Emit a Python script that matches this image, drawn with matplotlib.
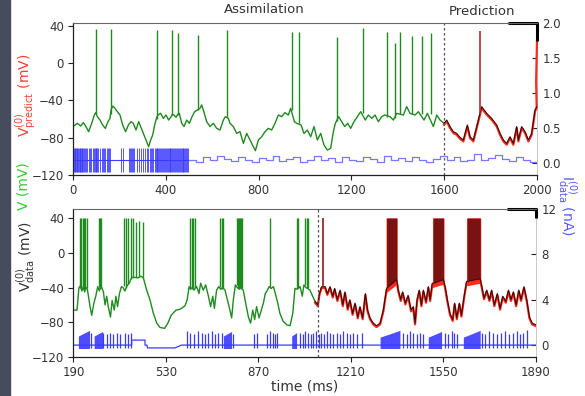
#! /usr/bin/env python3

'''
Two-panel voltage / current traces: assimilation (green) then prediction (red/black).
'''

import numpy as np
import matplotlib
matplotlib.use('Agg')
import matplotlib.pyplot as plt
from matplotlib.patches import Rectangle

GREEN = '#1f8a1f'
RED = '#ff2a1a'
BLUE = '#3a3aff'
LIGHT_BLUE = '#7777ff'

# ---------------- top panel data ----------------
# subthreshold voltage vertices (ms, mV)
top_v = [
    (0, -68), (18.6, -64.5), (33, -67.4), (44.5, -63.8), (56, -68), (67.5, -73.5),
    (80.4, -64.5), (92, -55.6), (98, -53), (104.8, -57.4), (116.3, -61), (127.8, -66.3),
    (139.3, -69.9), (150.8, -62.7), (159.4, -59.2), (164, -50), (171, -46), (181, -48.4),
    (191, -52), (202.5, -55.6), (214, -66.3), (227, -73.5), (238.5, -66.3), (250, -62.7),
    (260, -64.5), (271.5, -71.7), (283, -62.7), (294.5, -69.9), (306, -77.1), (317.5, -84.2),
    (326, -89.6), (334.7, -82.4), (343.4, -77.1), (352, -66.3), (361, -58), (366.3, -55.6),
    (377.8, -53.8), (389.3, -59.2), (400.8, -55.6), (412.3, -61), (422.4, -57.4), (428, -55),
    (435.3, -55.6), (443.9, -58), (451, -55), (458.3, -53.8), (468.4, -64.5), (478.4, -68),
    (490, -61), (501.4, -64.5), (513, -57.4), (524.4, -52), (536, -50.2), (547.4, -48.4),
    (554.6, -44.8), (561.8, -50.2), (576.1, -62.7), (590.5, -68), (604.9, -64.5),
    (619.2, -69.9), (633.6, -71.7), (648, -61), (656.6, -57.4), (669.5, -59.2),
    (676.7, -64.5), (691.1, -68), (705.5, -75.3), (719.8, -73.5), (734.2, -86),
    (748.6, -75.3), (762.9, -82.4), (777.3, -89.6), (786, -93.9), (798.9, -82.4),
    (813.2, -78.9), (827.6, -73.5), (842, -69.9), (856.3, -71.7), (870.7, -64.5),
    (885, -55.6), (899.4, -57.4), (913.8, -53), (928.2, -55.6), (938.2, -48.4),
    (954, -62.7), (964, -64.5), (982.8, -66.3), (995.7, -75.3), (1010, -71.7),
    (1024.4, -78.9), (1038.8, -68), (1053.2, -82.4), (1067.5, -75.3), (1081.9, -87.8),
    (1096.3, -93.2), (1110.6, -91.4), (1122.1, -73.5), (1130.7, -64.5), (1145.1, -57.4),
    (1158, -62.7), (1171, -68), (1183.9, -64.5), (1196.8, -69.9), (1211.2, -62.7),
    (1225.6, -57.4), (1240, -52), (1260, -61), (1273, -55.6), (1287.4, -59.2),
    (1301.7, -55.6), (1316, -62.7), (1330.4, -57.4), (1343.4, -55.6), (1366.4, -57.4),
    (1380.8, -61), (1395.1, -53.8), (1423.9, -55.6), (1438.2, -46.6), (1452.6, -53.8),
    (1474.2, -55.6), (1488.5, -52), (1513, -61), (1527.3, -53.8), (1553.2, -68),
    (1567.6, -55.6), (1582, -61), (1599.2, -64.5),
    # prediction
    (1610.7, -61), (1625, -68), (1639.4, -73.5), (1653.8, -75.3), (1668.1, -79.6),
    (1682.5, -82.4), (1699.7, -66.3), (1711.2, -78.9), (1725.6, -82.4), (1740, -68),
    (1761.5, -46.6), (1783.1, -53.8), (1804.6, -59.2), (1826.2, -66.3), (1840.5, -75.3),
    (1854.9, -82.4), (1869.3, -86), (1883.6, -78.9), (1898, -86), (1912.4, -68),
    (1919.6, -82.4), (1933.9, -68), (1948.3, -73.5), (1962.7, -82.4), (1977, -75.3),
    (1991.4, -50.2), (1998.6, -46.6),
]
# spikes: (time, base mV, peak mV)
top_spikes = [
    (98, -55, 37), (164, -55, 37), (361, -60, 36), (428, -56, 36), (451, -56, 32),
    (540, -50, 30), (662, -58, 36), (944, -50, 33), (974, -64, 34), (1137, -62, 28),
    (1250, -53, 38), (1352, -58, 33), (1388, -59, 22), (1409, -55, 34), (1462, -55, 29),
    (1503, -55, 29), (1542, -55, 32), (1754, -55, 35),
]
# red prediction running off at the end (ms, mV)
top_red_tail = [(1991.4, -50.2), (1996, -20), (2000, 25)]

# stimulus current, dense part: pulse times (ms)
top_i_pulses = [
    4, 7, 10, 13, 16, 19, 22, 25, 28, 31, 34, 37, 40, 43, 46, 50, 55, 60, 68, 75,
    78, 88, 92, 95, 98, 100, 104, 108, 118, 124, 128, 134, 140, 146, 150, 155, 160,
    205, 215, 240, 245, 250, 255, 260, 265, 275, 285, 295, 300, 312, 318, 325, 330,
    335, 340, 345, 352, 356, 360, 364, 368, 372, 376, 380, 384, 388, 392, 396, 400,
    404, 408, 412, 416, 420, 424, 428, 432, 436, 440, 444, 448, 452, 456, 460, 464,
    468, 472, 476, 480, 484, 488, 492, 496,
]
top_i_low, top_i_high, top_i_mid = -0.13, 0.21, 0.05
# slow part: levels held for 30 ms each from 500 ms (nA)
top_i_levels = [
    0.05, 0.02, 0.08, 0.04, 0.10, 0.06, 0.03, 0.09, 0.05, 0.02,
    0.07, 0.04, 0.10, 0.03, 0.06, 0.08, 0.02, 0.05, 0.10, 0.04,
    0.07, 0.02, 0.09, 0.05, 0.03, 0.08, 0.06, 0.02, 0.10, 0.04,
    0.07, 0.03, 0.09, 0.05, 0.02, 0.06, 0.10, 0.04, 0.08, 0.03,
    0.05, 0.13, 0.04, 0.07, 0.11, 0.06, 0.03, 0.08, 0.04, 0.02,
]

# ---------------- bottom panel data ----------------
bot_v = [
    (190, -66), (203, -66), (210, -40), (216, -38), (221, -44), (226, -39), (231, -45),
    (236, -40), (241, -42), (245, -50), (251, -62), (257, -72), (265, -58), (272, -50),
    (279, -39), (285, -44), (290, -38), (295, -41), (300, -45), (306, -60), (312, -50),
    (318, -62), (326, -74), (332, -55), (340, -66), (346, -50), (352, -62), (359, -47),
    (366, -39), (372, -40), (379, -44), (387, -38), (395, -35), (403, -29), (410, -28),
    (425, -29), (438, -27), (447, -29), (459, -43), (471, -54), (483, -69), (496, -81),
    (508, -86), (525, -87), (537, -81), (549, -72), (567, -66), (582, -65), (600, -61),
    (608, -54), (615, -39), (620, -42), (627, -40), (633, -43), (639, -40), (643, -39),
    (651, -47), (657.5, -35), (667, -43), (676, -37), (686, -50), (694, -62), (702, -50),
    (708, -64), (716, -43), (724, -39), (731, -42), (738, -40), (747, -43), (755.5, -54),
    (765, -66), (771.5, -75), (777.6, -54), (785, -37), (792, -40), (799, -42), (806, -40),
    (814, -43), (823, -58), (833, -74), (841, -81), (849, -66), (856, -77), (863, -62),
    (872, -75), (880.5, -66), (888, -58), (895, -47), (903, -43), (909, -39), (917, -41),
    (925, -39), (932, -47), (941, -58), (949, -70), (961, -79), (974, -83), (986, -84),
    (996, -70), (1004, -41), (1013, -42), (1023, -39), (1031, -50), (1037, -37),
    (1044, -40), (1050, -41), (1059, -43), (1069, -50), (1078, -56), (1088, -60),
    # prediction
    (1094, -47), (1102, -39), (1115, -39), (1123, -47), (1133, -39), (1143, -50),
    (1150, -41), (1160, -54), (1170, -43), (1180, -60), (1188, -45), (1198, -64),
    (1206, -54), (1216, -70), (1225, -58), (1235, -74), (1243, -62), (1253, -75),
    (1263, -47), (1271, -66), (1280, -75), (1292, -81), (1304, -84), (1317, -81),
    (1329, -66), (1341, -41), (1378, -31), (1384, -43), (1393, -54), (1400, -45),
    (1410, -58), (1420, -49), (1431, -66), (1439, -62), (1445.5, -81), (1453, -54),
    (1461, -43), (1469, -60), (1476, -43), (1486, -56), (1494.5, -39), (1501, -54),
    (1509, -35), (1513, -35), (1550, -31), (1556, -39), (1564, -54), (1574, -70),
    (1584, -77), (1591, -58), (1599, -75), (1608.5, -58), (1616, -72), (1626, -50),
    (1635, -33), (1685, -30), (1691, -39), (1699, -52), (1709, -43), (1719, -54),
    (1727, -43), (1737, -60), (1748, -47), (1758, -64), (1768, -50), (1779, -56),
    (1789, -43), (1798, -54), (1807, -45), (1817, -60), (1827, -43), (1835, -54),
    (1846, -39), (1856, -54), (1866, -74), (1876, -81), (1890, -83),
]
bot_spikes = [
    (214, -40, 40), (219, -42, 40), (224, -40, 40), (229, -43, 40), (233, -41, 40),
    (238.5, -40, 40), (283, -39, 40), (287, -42, 40), (292, -40, 40),
    (375.7, -38, 40), (383, -40, 40), (391.5, -36, 40), (400, -30, 40), (407.6, -29, 40),
    (420, -28, 36), (432, -28, 37), (444, -29, 36),
    (618, -40, 40), (624.5, -42, 40), (630.5, -41, 40), (636.7, -40, 40),
    (728.6, -39, 40), (734.8, -42, 40), (740.9, -41, 40),
    (790, -37, 40), (793.6, -40, 40), (797, -41, 40), (801, -40, 40), (804.6, -42, 40),
    (808, -41, 40), (912, -40, 40), (1010.6, -40, 40), (1016.6, -40, 40),
    (1041, -37, 40), (1047, -40, 40), (1053, -40, 40),
    (1108, -39, 40),
]
# dense predicted bursts: (start ms, end ms, floor at start, floor at end)
bot_bursts = [(1341, 1378, -41, -31), (1512, 1550, -35, -31), (1637, 1685, -33, -30)]

# current: baseline vertices (ms, nA)
bot_i_base = [
    (190, 0.0), (404, 0.0), (404, 0.44), (453, 0.44), (453, 0.0), (460, 0.0),
    (462, -0.25), (563, -0.25), (587, 0.0), (1890, 0.0),
]
# single pulses: times (ms) and heights (nA)
bot_i_pulses = [
    253, 300, 312, 324, 336, 349, 361, 379, 392, 401,
    606, 618, 633, 649, 661, 673, 686, 698, 710, 722.5, 735, 778,
    853.6, 866, 902.6, 912, 922, 931, 939,
    1023, 1032, 1042, 1052, 1062, 1072, 1082, 1091, 1101, 1111, 1121, 1133, 1145,
    1157, 1170, 1182, 1194, 1206, 1219, 1231, 1249,
    1402.6, 1414.8, 1427, 1439, 1451.6, 1464, 1476,
    1555.8, 1568, 1580.3, 1589, 1598.7,
    1690.6, 1704, 1717.5, 1731, 1745.7, 1760.4, 1775, 1789.8, 1804.5, 1819.3,
    1831.5, 1843.8, 1856,
]
bot_i_heights = [
    1.1, 1.1, 1.0, 1.1, 1.0, 1.1, 1.0, 1.1, 1.0, 1.1,
    1.2, 1.1, 1.0, 1.2, 1.1, 1.0, 1.1, 1.2, 1.0, 1.1, 1.1, 1.0,
    1.0, 1.1, 1.0, 1.2, 1.1, 1.0, 1.1,
    1.1, 1.0, 1.2, 1.1, 1.0, 1.1, 1.2, 1.0, 1.1, 1.0, 1.2, 1.1, 1.0,
    1.1, 1.0, 1.2, 1.1, 1.0, 1.1, 1.0, 1.1,
    1.1, 1.0, 1.2, 1.1, 1.0, 1.1, 1.0,
    1.1, 1.0, 1.2, 1.1, 1.0,
    1.1, 1.0, 1.2, 1.1, 1.0, 1.1, 1.2, 1.0, 1.1, 1.2,
    1.0, 1.1, 1.3,
]
# ramped pulse trains: (start ms, end ms, height at start, height at end)
bot_i_ramps = [
    (208, 249, 0.8, 1.3), (266, 297, 0.8, 1.2), (741, 771, 0.8, 1.2),
    (992, 1010, 0.8, 1.1), (1317, 1390, 0.7, 1.3), (1494, 1543, 0.7, 1.2),
    (1623, 1685, 0.7, 1.3),
]
pulse_floor = -0.3

split_top = 1600
split_bot = 1090


def style_axes(ax, twin):
    for s in ('left', 'bottom'):
        ax.spines[s].set_color('#222222')
        ax.spines[s].set_linewidth(0.9)
    ax.spines['top'].set_color('#666666')
    ax.spines['top'].set_linewidth(0.8)
    ax.spines['right'].set_visible(False)
    twin.spines['right'].set_color('#c8c8c8')
    twin.spines['right'].set_linewidth(0.7)
    for s in ('left', 'bottom', 'top'):
        twin.spines[s].set_visible(False)
    ax.tick_params(direction='out', length=3.5, width=0.8, labelsize=8.5,
                   colors='#222222', labelcolor='#333333', pad=3)
    twin.tick_params(direction='in', length=3.5, width=0.8, labelsize=8.5,
                     colors='#222222', labelcolor='#333333', pad=4)


def split(points, at):
    a = np.array(points, dtype=float)
    return a[a[:, 0] <= at], a[a[:, 0] >= at - 12]


fig = plt.figure(figsize=(5.85, 3.96), dpi=100)
fig.patches.append(Rectangle((0, 0), 10 / 585, 1, transform=fig.transFigure,
                             color='#474c5c', zorder=0))

# ---------------- top panel ----------------
ax1 = fig.add_axes([0.1248, 0.558, 0.7932, 0.384])
ax1r = ax1.twinx()
ax1.set_zorder(ax1r.get_zorder() + 1)
ax1.patch.set_visible(False)

ax1.set_xlim(0, 2000)
ax1.set_ylim(-120, 43.2)
ax1.set_yticks([40, 0, -40, -80, -120])
ax1.set_xticks([0, 400, 800, 1200, 1600, 2000])
ax1r.set_ylim(-0.171, 2.0)
ax1r.set_yticks([0.0, 0.5, 1.0, 1.5, 2.0])
ax1r.set_yticklabels(['0.0', '0.5', '1.0', '1.5', '2.0'])

assim, pred = split(top_v, split_top)
ax1.plot(assim[:, 0], assim[:, 1], color=GREEN, lw=1.0)
sp = np.array(top_spikes)
ax1.vlines(sp[sp[:, 0] < split_top, 0], sp[sp[:, 0] < split_top, 1],
           sp[sp[:, 0] < split_top, 2], color=GREEN, lw=1.0)
tail = np.array(top_red_tail)
ax1.plot(np.r_[pred[:, 0], tail[1:, 0]], np.r_[pred[:, 1] - 1.5, tail[1:, 1]],
         color=RED, lw=1.6, clip_on=False)
ax1.plot(pred[:, 0], pred[:, 1], color='#3a0b0b', lw=0.8)
ax1.vlines(sp[sp[:, 0] > split_top, 0], sp[sp[:, 0] > split_top, 1],
           sp[sp[:, 0] > split_top, 2], color='#b03030', lw=1.2)
ax1.axvline(split_top, color='#555555', lw=0.9, dashes=(2, 2))

# current
ax1r.hlines(top_i_mid, 0, 500, color=BLUE, lw=0.8)
ax1r.vlines(top_i_pulses, top_i_low, top_i_high, color=BLUE, lw=0.6)
steps_t = 500 + 30 * np.arange(len(top_i_levels) + 1)
ax1r.step(steps_t, top_i_levels + top_i_levels[-1:], where='post',
          color=LIGHT_BLUE, lw=0.9)

ax1.plot([0.9375, 1, 1], [1, 1, 0.88], transform=ax1.transAxes, color='black',
         lw=2.2, clip_on=False, solid_capstyle='butt')
style_axes(ax1, ax1r)

# ---------------- bottom panel ----------------
ax2 = fig.add_axes([0.1256, 0.0985, 0.7906, 0.3737])
ax2r = ax2.twinx()
ax2.set_zorder(ax2r.get_zorder() + 1)
ax2.patch.set_visible(False)

ax2.set_xlim(190, 1890)
ax2.set_ylim(-120, 50.4)
ax2.set_yticks([40, 0, -40, -80, -120])
ax2.set_xticks([190, 530, 870, 1210, 1550, 1890])
ax2r.set_ylim(-1.05, 12.0)
ax2r.set_yticks([0, 4, 8, 12])

assim, pred = split(bot_v, split_bot)
ax2.plot(assim[:, 0], assim[:, 1], color=GREEN, lw=1.0)
sp = np.array(bot_spikes)
ax2.vlines(sp[sp[:, 0] < split_bot, 0], sp[sp[:, 0] < split_bot, 1],
           sp[sp[:, 0] < split_bot, 2], color=GREEN, lw=1.0)
for t0, t1, f0, f1 in bot_bursts:
    ax2.fill_between([t0 - 2, t1 + 2], [f0 - 5, f1 - 5], [40, 40], color=RED, lw=0)
    ax2.fill_between([t0, t1], [f0, f1], [40, 40], color='#7a1212', lw=0)
ax2.plot(pred[:, 0], pred[:, 1] - 1.5, color=RED, lw=1.6)
ax2.plot(pred[:, 0], pred[:, 1], color='#3a0b0b', lw=0.8)
ax2.vlines(sp[sp[:, 0] > split_bot, 0], sp[sp[:, 0] > split_bot, 1],
           sp[sp[:, 0] > split_bot, 2], color='#8a1a1a', lw=1.2)
ax2.axvline(split_bot, color='#555555', lw=0.9, dashes=(2, 2))

base = np.array(bot_i_base)
ax2r.plot(base[:, 0], base[:, 1], color=BLUE, lw=0.9)
ax2r.vlines(bot_i_pulses, pulse_floor, bot_i_heights, color=BLUE, lw=0.9)
for t0, t1, h0, h1 in bot_i_ramps:
    ax2r.fill_between([t0, t1], [pulse_floor, pulse_floor], [h0, h1],
                      color=BLUE, lw=0, alpha=0.9)

ax2.plot([0.9375, 1, 1], [1, 1, 0.94], transform=ax2.transAxes, color='black',
         lw=2.2, clip_on=False, solid_capstyle='butt')
style_axes(ax2, ax2r)

# ---------------- labels ----------------
fig.text(0.451, 0.975, 'Assimilation', ha='center', va='center', fontsize=9.5,
         color='#333333')
fig.text(0.824, 0.972, 'Prediction', ha='center', va='center', fontsize=9.5,
         color='#333333')
fig.text(0.521, 0.023, 'time (ms)', ha='center', va='center', fontsize=10,
         color='#333333')
fig.text(0.046, 0.76, r'$\mathregular{V^{(0)}_{predict}}$ (mV)', rotation=90,
         ha='center', va='center', fontsize=10, color='#ff3b30')
fig.text(0.041, 0.53, 'V (mV)', rotation=90, ha='center', va='center',
         fontsize=10, color='#33cc33')
fig.text(0.046, 0.351, r'$\mathregular{V^{(0)}_{data}}$ (mV)', rotation=90,
         ha='center', va='center', fontsize=10, color='#333333')
fig.text(0.969, 0.482, r'$\mathregular{I^{(0)}_{data}}$ (nA)', rotation=270,
         ha='center', va='center', fontsize=10, color='#5555ff')

fig.savefig('out.png', dpi=100)
